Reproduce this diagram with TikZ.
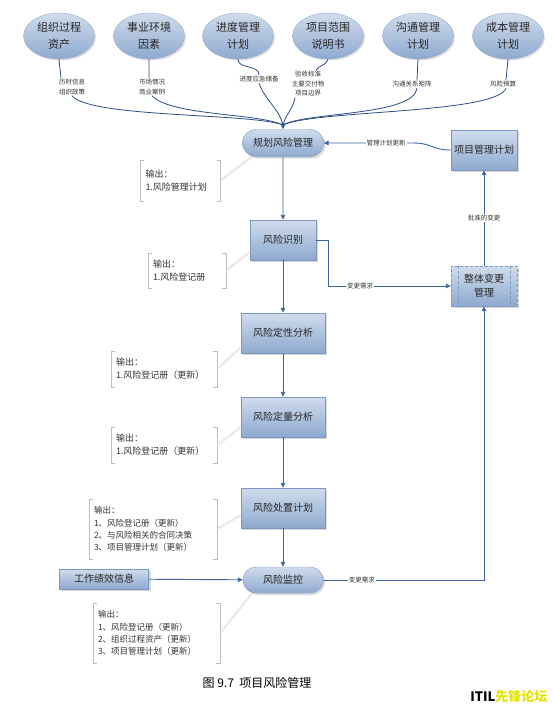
\documentclass[tikz,border=0pt]{standalone}
\usepackage{fontspec}
\setmainfont{Noto Sans CJK SC}
\usepackage{xcolor}
\usetikzlibrary{shapes,arrows,positioning,shadows,arrows.meta}

\definecolor{boxtop}{HTML}{D0DCEC}
\definecolor{boxbot}{HTML}{8EA9CF}
\definecolor{boxline}{HTML}{7C98C2}
\definecolor{flowblue}{HTML}{3B64A2}
\definecolor{feedblue}{HTML}{2B4C85}
\definecolor{notegray}{HTML}{BDBDBD}
\definecolor{forumyellow}{HTML}{E4E400}

\tikzset{
  procbox/.style={draw=boxline, top color=boxtop, bottom color=boxbot,
    minimum width=84pt, minimum height=40pt, inner sep=3pt, align=center,
    text=black!85, font=\fontsize{10}{14}\selectfont,
    drop shadow={shadow xshift=2pt, shadow yshift=-2pt, opacity=0.3}},
  procstad/.style={procbox, rounded rectangle, minimum width=87pt, minimum height=27pt},
  topell/.style={ellipse, draw=boxline!80, top color=boxtop, bottom color=boxbot,
    minimum width=71pt, minimum height=46pt, inner sep=0pt, align=center,
    text=black!85, font=\fontsize{11}{17}\selectfont,
    drop shadow={shadow xshift=1.5pt, shadow yshift=-1.5pt, opacity=0.25}},
  inlbl/.style={align=center, inner sep=1pt, text=black!80, font=\fontsize{6.5}{9.5}\selectfont},
  lbl/.style={fill=white, inner sep=1pt, text=black!80, font=\fontsize{6.5}{8}\selectfont},
  outnote/.style={align=left, inner sep=5pt, text=black!80, font=\fontsize{9}{13}\selectfont},
  feed/.style={draw=feedblue, line width=0.8pt},
  flow/.style={draw=flowblue, line width=0.9pt, -{Triangle[length=5pt,width=4.5pt]}},
  notelink/.style={draw=notegray, line width=0.35pt, double=white, double distance=0.8pt},
  bracket/.style={draw=notegray, line width=0.6pt}
}

\begin{document}
\begin{tikzpicture}[x=1pt,y=-1pt]
    \useasboundingbox (0,0) rectangle (552,707);

    % Inputs
    \node[topell] (orgassets) at (59,36) {组织过程\\资产};
    \node[topell] (enviro) at (149,36) {事业环境\\因素};
    \node[topell] (schedplan) at (238,36) {进度管理\\计划};
    \node[topell] (scopestmt) at (328,36) {项目范围\\说明书};
    \node[topell] (commplan) at (418,36) {沟通管理\\计划};
    \node[topell] (costplan) at (508,36) {成本管理\\计划};

    % Input items
    \node[inlbl] (orgin) at (72,87) {历时信息\\组织政策};
    \node[inlbl] (envin) at (152,87) {市场情况\\商业案例};
    \node[inlbl] (schedin) at (259,79) {进度应急储备};
    \node[inlbl] (scopein) at (308,84) {验收标准\\主要交付物\\项目边界};
    \node[inlbl] (commin) at (412,84) {沟通关系矩阵};
    \node[inlbl] (costin) at (503,84) {风险预算};
    \coordinate (merge) at (283,125);

    \draw[feed] (orgassets.south) to[out=-85,in=95] ([xshift=-11pt]orgin.north);
    \draw[feed] (orgin.south) .. controls (92,118) and (252,113) .. (merge);
    \draw[feed] (enviro.south) to[out=-88,in=92] ([xshift=-3pt]envin.north);
    \draw[feed] (envin.south) .. controls (172,116) and (258,113) .. (merge);
    \draw[feed] (schedplan.south) to[out=-90,in=90] (schedin.north);
    \draw[feed] (schedin.south) .. controls (265,100) and (280,110) .. (merge);
    \draw[feed] (scopestmt.south) to[out=-100,in=60] ([xshift=8pt]scopein.north);
    \draw[feed] ([xshift=-13pt]scopein.south) to[out=-100,in=75] (merge);
    \draw[feed] (commplan.south) -- ([xshift=5pt]commin.north);
    \draw[feed] ([xshift=5pt]commin.south) .. controls (414,116) and (305,112) .. (merge);
    \draw[feed] (costplan.south) -- ([xshift=3pt]costin.north);
    \draw[feed] ([xshift=3pt]costin.south) .. controls (496,114) and (315,110) .. (merge);
    \fill[feedblue] (merge) circle (2pt);

    % Process steps
    \node[procstad] (planrisk) at (283,143) {规划风险管理};
    \node[procbox, minimum width=66pt] (identify) at (283,240) {风险识别};
    \node[procbox] (quali) at (283,333) {风险定性分析};
    \node[procbox] (quanti) at (283,417) {风险定量分析};
    \node[procbox] (response) at (283,508) {风险处置计划};
    \node[procstad, minimum width=86pt, minimum height=26pt] (monitor) at (283,580) {风险监控};
    \node[procbox, minimum width=89pt, minimum height=20pt] (workperf) at (104,579) {工作绩效信息};
    \node[procbox, minimum width=66pt] (pmplan) at (484,150) {项目管理计划};
    \node[procbox, minimum width=66pt, densely dashed] (changectl) at (484,286) {整体变更\\管理};
    \draw[boxline, densely dashed] ([xshift=7pt]changectl.north west) -- ([xshift=7pt]changectl.south west);
    \draw[boxline, densely dashed] ([xshift=-7pt]changectl.north east) -- ([xshift=-7pt]changectl.south east);

    % Outputs
    \node[outnote, text width=70pt, minimum height=41pt] (planout) at (180.5,180.5) {输出：\\1.风险管理计划};
    \node[outnote, text width=68pt, minimum height=35pt] (identout) at (187,270.5) {输出：\\1.风险登记册};
    \node[outnote, text width=96pt, minimum height=36pt] (qualiout) at (164,369) {输出：\\1.风险登记册（更新）};
    \node[outnote, text width=96pt, minimum height=36pt] (quantiout) at (164,445) {输出：\\1.风险登记册（更新）};
    \node[outnote, text width=118pt, minimum height=60pt, font=\fontsize{8.5}{12.3}\selectfont] (respout) at (153,529)
        {输出：\\1、风险登记册（更新）\\2、与风险相关的合同决策\\3、项目管理计划（更新）};
    \node[outnote, text width=117pt, minimum height=60pt, font=\fontsize{8.5}{12.3}\selectfont] (monout) at (156.5,633)
        {输出：\\1、风险登记册（更新）\\2、组织过程资产（更新）\\3、项目管理计划（更新）};
    \foreach \n in {planout,identout,qualiout,quantiout,respout,monout} {
        \draw[bracket] ([xshift=4pt]\n.north west) -- (\n.north west) -- (\n.south west) -- ([xshift=4pt]\n.south west);
        \draw[bracket] ([xshift=-4pt]\n.north east) -- (\n.north east) -- (\n.south east) -- ([xshift=-4pt]\n.south east);
    }
    \draw[notelink] (planout.east) -- ([xshift=-31pt]planrisk.south);
    \draw[notelink] (identout.east) -- ([yshift=8pt]identify.south west);
    \draw[notelink] (qualiout.east) -- ([yshift=6pt]quali.south west);
    \draw[notelink] (quantiout.east) -- ([yshift=10pt]quanti.south west);
    \draw[notelink] (respout.east) -- ([yshift=13pt]response.south west);
    \draw[notelink] (monout.east) -- ([xshift=-31pt]monitor.south);

    % Flow
    \draw[flow] (merge) -- (planrisk.north);
    \draw[flow] (planrisk) -- (identify);
    \draw[flow] (identify) -- (quali);
    \draw[flow] (quali) -- (quanti);
    \draw[flow] (quanti) -- (response);
    \draw[flow] (response) -- (monitor);
    \draw[flow] (workperf) -- (monitor);
    \draw[flow] (identify.east) -- ++(12,0) |- node[lbl, pos=0.63] {变更需求} (changectl.west);
    \draw[flow] (monitor.east) -| node[lbl, pos=0.12] {变更需求} (changectl.south);
    \draw[flow] (changectl) -- node[lbl] {批准的变更} (pmplan);
    \coordinate (pmbend) at (413,143);
    \draw[flow] (pmplan.west) .. controls (432,150) and (432,143) .. (pmbend)
        -- node[lbl, pos=0.3] {管理计划更新} (planrisk.east);

    % Caption
    \node[font=\fontsize{12}{14}\selectfont] (caption) at (257,683) {图 9.7\ \ 项目风险管理};
    \node[anchor=east, font=\bfseries\fontsize{13}{15}\selectfont] (forum) at (551,697) {ITIL{\color{forumyellow}先锋论坛}};
\end{tikzpicture}
\end{document}
